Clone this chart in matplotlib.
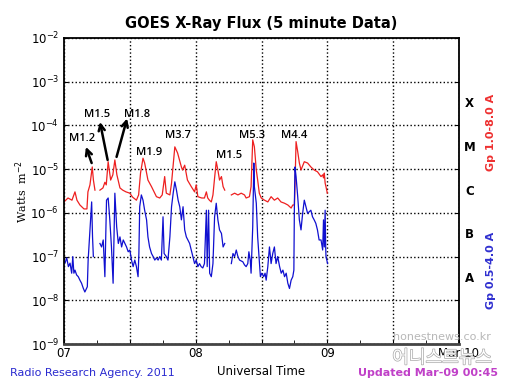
import numpy as np
import matplotlib
matplotlib.use("Agg")
import matplotlib.pyplot as plt
import matplotlib.patheffects as pe

# hours after 07 00:00 UT, log10 flux (W m^-2); nan marks a data gap
long_hours = [0.0, 0.73, 1.45, 2.0, 2.36, 2.9, 3.64, 4.18, 4.36, 4.73, 5.15, 5.36, 5.64, 6.1,
              6.55, 7.1, 7.45, 7.7, 8.05, 8.5, 8.9, 9.27, 9.64, 10.2, 10.7, 11.3, 12.0, 12.5,
              13.2, 13.6, 13.95, 14.4, 14.7, 15.3, 15.95, 16.85, 17.45, 17.9, 18.35, 18.65,
              19.3, 19.6, 20.2, 20.7, 21.4, 21.6, 22.0, 22.5, 23.2, 23.8, 24.1, 24.4, 25.1,
              25.6, 25.95, 26.2, 26.5, 26.85, 27.15, 27.45, 27.75, 28.05, 28.35, 28.7, 29.0,
              29.3, 29.9, 30.5, 31.1, 31.7, 32.3, 32.9, 33.2, 33.8, 34.1, 34.4, 34.7, 35.05,
              35.3, 35.6, 35.95, 36.55, 37.15, 37.75, 38.35, 38.95, 39.55, 40.2, 40.8, 41.4,
              41.7, 42.0, 42.1, 42.3, 42.6, 42.9, 43.2, 43.8, 44.4, 45.0, 45.6, 46.2, 46.85,
              47.15, 47.3, 47.45, 47.6, 47.75, 48.0]
long_log = [-5.75, -5.66, -5.71, -5.52, -5.71, -5.82, -5.91, -5.91, -5.52, -5.36, -4.95, -5.25,
            -5.48, np.nan, -5.48, -5.43, -5.30, -5.36, -4.83, -5.25, -5.13, -4.79, -5.13, -5.43,
            -5.48, -5.52, -5.55, -5.64, -5.71, -5.59, -5.09, -4.75, -4.86, -5.25, -5.40, -5.63,
            -5.66, -5.59, -5.17, -5.55, -5.59, -5.32, -4.49, -4.63, -4.95, -5.02, -4.91, -5.25,
            -5.40, -5.52, -5.36, -5.63, -5.66, -5.66, -5.52, -5.66, -5.71, -5.75, -5.59, -5.20,
            -4.83, -5.02, -5.25, -5.17, -5.40, -5.48, np.nan, -5.59, -5.55, -5.59, -5.55, -5.59,
            -5.66, -5.63, -5.40, -4.33, -4.49, -5.02, -5.25, -5.55, -5.66, -5.71, -5.75, -5.63,
            -5.71, -5.66, -5.75, -5.78, -5.82, -5.89, -5.82, -5.82, -5.40, -4.37, -4.60, -4.86,
            -5.02, -4.83, -4.86, -4.95, -5.02, -5.06, -5.17, -5.13, -5.20, -5.09, -5.32, -5.40,
            -5.55]

short_hours = [0.0, 0.18, 0.5, 0.8, 1.1, 1.4, 1.6, 1.8, 2.0, 2.3, 2.6, 2.9, 3.2, 3.5, 3.8, 4.1,
               4.25, 4.4, 4.73, 5.04, 5.2, 5.35, 6.0, 6.55, 6.85, 7.15, 7.45, 7.75, 8.05, 8.35,
               8.65, 8.95, 9.27, 9.6, 9.9, 10.2, 10.5, 10.8, 11.4, 11.7, 12.0, 12.3, 12.6, 12.9,
               13.2, 13.5, 13.65, 13.8, 14.1, 14.4, 14.7, 15.05, 15.3, 15.6, 15.95, 16.25, 16.55,
               16.85, 17.15, 17.45, 17.75, 18.05, 18.25, 18.65, 18.95, 19.3, 19.6, 19.9, 20.2,
               20.5, 20.8, 21.1, 21.4, 21.7, 22.0, 22.3, 22.9, 23.2, 23.5, 23.8, 24.1, 24.4,
               24.7, 25.0, 25.3, 25.6, 25.95, 26.1, 26.35, 26.55, 26.85, 27.15, 27.45, 27.75,
               28.05, 28.35, 28.7, 29.0, 29.3, 29.9, 30.5, 30.8, 31.1, 31.4, 31.7, 32.0, 32.6,
               32.9, 33.2, 33.5, 33.7, 33.95, 34.1, 34.4, 34.6, 34.7, 35.05, 35.3, 35.6, 35.8,
               36.05, 36.4, 36.65, 36.85, 37.15, 37.45, 37.75, 38.05, 38.35, 38.65, 38.95, 39.3,
               39.6, 39.9, 40.2, 40.5, 40.8, 41.1, 41.4, 41.7, 41.9, 42.0, 42.1, 42.3, 42.6,
               42.9, 43.2, 43.5, 43.8, 44.1, 44.4, 45.0, 45.3, 45.6, 45.9, 46.2, 46.5, 46.85,
               47.15, 47.3, 47.45, 47.6, 47.7, 47.75, 48.05]
short_log = [-7.08, -7.15, -7.03, -7.23, -7.15, -7.38, -7.00, -7.38, -7.31, -7.42, -7.46, -7.54,
             -7.61, -7.72, -7.81, -7.73, -7.69, -7.08, -6.39, -5.75, -6.55, -7.00, np.nan, -6.70,
             -6.78, -6.62, -7.46, -5.71, -5.66, -6.16, -6.78, -7.61, -5.55, -6.32, -6.70, -6.55,
             -6.78, -6.62, -6.78, -6.89, -6.85, -7.08, -7.23, -7.08, -7.23, -7.46, -6.92, -5.86,
             -5.59, -5.71, -5.94, -6.16, -6.55, -6.78, -6.93, -7.00, -7.08, -7.03, -7.08, -7.00,
             -7.08, -6.09, -6.93, -7.00, -7.08, -6.55, -5.86, -5.55, -5.29, -5.48, -5.71, -5.86,
             -6.16, -5.86, -6.39, -6.55, -6.70, -6.85, -7.00, -7.16, -7.08, -7.23, -7.16, -7.23,
             -7.26, -7.16, -5.94, -7.23, -5.94, -7.38, -7.46, -7.16, -6.09, -5.78, -6.16, -6.39,
             -6.47, -6.78, -6.70, np.nan, -7.16, -6.93, -7.00, -6.85, -7.00, -7.08, -7.12, -7.19,
             -7.23, -7.16, -6.89, -7.08, -7.38, -6.32, -4.86, -5.40, -5.78, -6.55, -7.08, -7.46,
             -7.38, -7.46, -7.38, -7.54, -7.23, -6.78, -7.16, -6.93, -6.78, -7.16, -7.00, -7.23,
             -7.38, -7.31, -7.46, -7.38, -7.61, -7.73, -7.54, -7.46, -7.31, -5.78, -4.95, -5.17,
             -5.63, -6.16, -6.39, -6.01, -5.71, -5.86, -6.01, -5.94, -6.09, -6.16, -6.24, -6.39,
             -6.62, -6.62, -6.85, -6.16, -6.78, -5.94, -6.78, -7.00, -7.16]

# flare labels: text, text position (hour, log10), arrow tip or None, arrow tail
flare_names = ["M1.2", "M1.5", "M1.8", "M1.9", "M3.7", "M1.5", "M5.3", "M4.4"]
flare_text_h = [3.27, 6.0, 13.3, 15.45, 20.8, 30.1, 34.2, 42.0]
flare_text_log = [-4.29, -3.76, -3.74, -4.61, -4.24, -4.68, -4.24, -4.22]
arrow_tip = [(4.0, -4.49), (6.55, -3.92), (11.5, -3.84), None, None, None, None, None]
arrow_tail = [(5.04, -4.86), (7.95, -4.79), (9.58, -4.72), None, None, None, None, None]

class_names = ["X", "M", "C", "B", "A"]
class_log = [-3.5, -4.5, -5.5, -6.5, -7.5]
day_labels = ["07", "", "08", "", "09", "", "Mar 10"]

fig = plt.figure(figsize=(5.1, 3.83), dpi=100)
ax = fig.add_axes([0.1255, 0.1018, 0.7745, 0.799])

ax.plot(long_hours, 10 ** np.array(long_log), color="#ee2020", lw=0.9)
ax.plot(short_hours, 10 ** np.array(short_log), color="#1010d0", lw=0.9)

ax.set_yscale("log")
ax.set_ylim(1e-9, 1e-2)
ax.set_xlim(0, 72)
ax.set_yticks([10.0 ** k for k in range(-9, -1)])
ax.yaxis.set_minor_locator(matplotlib.ticker.NullLocator())
ax.set_xticks(np.arange(0, 73, 12))
ax.set_xticklabels(day_labels)
ax.set_xticks(np.arange(0, 73, 6), minor=True)
ax.tick_params(axis="both", which="both", direction="in", labelsize=8.5, length=3, right=True)
ax.tick_params(axis="x", pad=2)
ax.grid(True, which="major", color="black", linestyle=":", lw=1.0)
for sp in ax.spines.values():
    sp.set_linewidth(1.3)
ax.spines["bottom"].set_color("#444444")
ax.spines["bottom"].set_linewidth(2)

ax.set_title("GOES X-Ray Flux (5 minute Data)", fontsize=10.5, fontweight="bold", pad=7)
ax.set_xlabel("Universal Time", fontsize=8.5, labelpad=4)
ax.set_ylabel("Watts  m$^{-2}$", fontsize=8, family="DejaVu Serif", labelpad=0)

for i in range(len(flare_names)):
    ax.text(flare_text_h[i], 10 ** flare_text_log[i], flare_names[i], fontsize=8,
            fontweight="semibold", ha="center", va="center", family="Open Sans")
    if arrow_tip[i] is not None:
        ax.annotate("", xy=(arrow_tip[i][0], 10 ** arrow_tip[i][1]),
                    xytext=(arrow_tail[i][0], 10 ** arrow_tail[i][1]),
                    arrowprops=dict(arrowstyle="->", lw=1.8, color="black",
                                    mutation_scale=11, shrinkA=0, shrinkB=0))

trans = matplotlib.transforms.blended_transform_factory(ax.transAxes, ax.transData)
for name, lg in zip(class_names, class_log):
    ax.text(1.027, 10 ** lg, name, transform=trans, fontsize=8.5, fontweight="bold",
            ha="center", va="center", clip_on=False)

fig.text(0.962, 0.655, "Gp 1.0-8.0 A", color="#ee3030", rotation=90, fontsize=8,
         fontweight="bold", ha="center", va="center")
fig.text(0.962, 0.295, "Gp 0.5-4.0 A", color="#3030d0", rotation=90, fontsize=8,
         fontweight="bold", ha="center", va="center")

fig.text(0.02, 0.026, "Radio Research Agency. 2011", color="#2a2ad0", fontsize=8,
         ha="left", va="center")
fig.text(0.977, 0.026, "Updated Mar-09 00:45", color="#c040c8", fontsize=8,
         fontweight="bold", ha="right", va="center")

# watermark
fig.text(0.867, 0.12, "honestnews.co.kr", color="#b0b0b0", fontsize=8, ha="center",
         va="center", alpha=0.9)
fig.text(0.867, 0.065, "어니스트뉴스", family=["Noto Sans CJK KR", "DejaVu Sans"],
         color="white", fontsize=13, ha="center", va="center",
         path_effects=[pe.withStroke(linewidth=1.0, foreground="#a8a8a8")])

fig.savefig("out.png", dpi=100)
